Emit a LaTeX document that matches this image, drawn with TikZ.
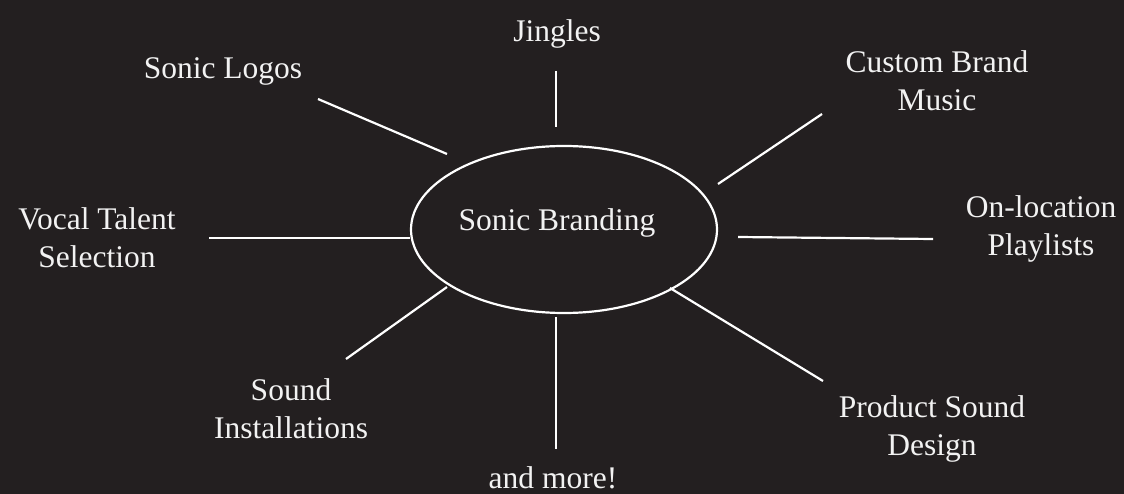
\documentclass[tikz,border=0pt]{standalone}
\usepackage{fontspec}
\setmainfont{Liberation Serif}
\usetikzlibrary{shapes.geometric}
\definecolor{bg}{HTML}{231F20}
\definecolor{fg}{HTML}{F2F2F2}
\begin{document}
\begin{tikzpicture}[x=1pt,y=-1pt,
  lbl/.style={text=fg, font=\fontsize{31.5}{38}\selectfont, align=center, inner sep=0pt, anchor=base},
  hubshape/.style={ellipse, draw=white, line width=2.2pt, minimum width=306pt, minimum height=167pt, inner sep=0pt},
  spoke/.style={draw=white, line width=2.2pt}]
\fill[bg] (0,0) rectangle (1124,494);
\useasboundingbox (0,0) rectangle (1124,494);
\node[hubshape] (hub) at (564,229.5) {};
\node[lbl] (hubtext) at (557,231) {Sonic Branding};
\node[lbl] (jingles) at (557,42) {Jingles};
\node[lbl] (logos) at (223,79) {Sonic Logos};
\node[lbl] (custom) at (937,111) {Custom Brand\\Music};
\node[lbl] (onloc) at (1041,256) {On-location\\Playlists};
\node[lbl] (vocal) at (97,268) {Vocal Talent\\Selection};
\node[lbl] (install) at (291,438) {Sound\\Installations};
\node[lbl] (more) at (553,488) {and more!};
\node[lbl] (product) at (932,455) {Product Sound\\Design};
% spoke end points
\coordinate (j1) at (556,71);   \coordinate (j2) at (556,127);
\coordinate (l1) at (318,99);   \coordinate (l2) at (447,154);
\coordinate (c1) at (822,114);  \coordinate (c2) at (718,184);
\coordinate (o1) at (738,237);  \coordinate (o2) at (933,239);
\coordinate (v1) at (209,238);  \coordinate (v2) at (410,238);
\coordinate (i1) at (346,359);  \coordinate (i2) at (447,287);
\coordinate (m1) at (556,317);  \coordinate (m2) at (556,449);
\coordinate (p1) at (670,288);  \coordinate (p2) at (823,381);
\draw[spoke] (j1) -- (j2);
\draw[spoke] (l1) -- (l2);
\draw[spoke] (c1) -- (c2);
\draw[spoke] (o1) -- (o2);
\draw[spoke] (v1) -- (v2);
\draw[spoke] (i1) -- (i2);
\draw[spoke] (m1) -- (m2);
\draw[spoke] (p1) -- (p2);
\end{tikzpicture}
\end{document}
